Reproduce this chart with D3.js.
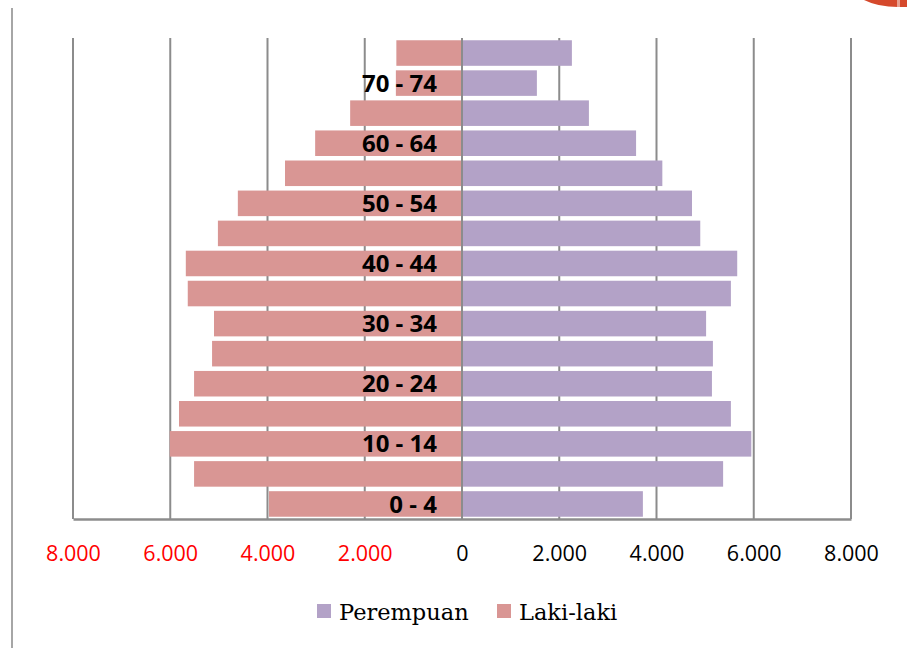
<!DOCTYPE html>
<html><head><meta charset="utf-8">
<script src="https://cdn.jsdelivr.net/npm/d3@7"></script>
<style>body{margin:0;background:#fff}svg{display:block}</style>
</head><body>
<script>
const categories = ["0 - 4","5 - 9","10 - 14","15 - 19","20 - 24","25 - 29","30 - 34","35 - 39","40 - 44","45 - 49","50 - 54","55 - 59","60 - 64","65 - 69","70 - 74","75+"];
const lakiLaki = [3970,5510,6010,5820,5510,5140,5100,5640,5680,5020,4610,3640,3020,2300,1360,1350];
const perempuan = [3720,5370,5950,5530,5140,5160,5020,5530,5660,4900,4730,4120,3580,2610,1540,2260];
const tickValues = [-8000,-6000,-4000,-2000,0,2000,4000,6000,8000];
const labelShown = [true,false,true,false,true,false,true,false,true,false,true,false,true,false,true,false];

const W=907,H=648;
const svg=d3.select("body").append("svg").attr("width",W).attr("height",H);

// decorative page border & corner
svg.append("line").attr("x1",12).attr("x2",12).attr("y1",8).attr("y2",H).attr("stroke","#a6a6a6").attr("stroke-width",2);
svg.append("path").attr("d","M864,0 Q878,7 898,7 L907,7 L907,0 Z").attr("fill","#d5492c");
svg.append("rect").attr("x",897).attr("y",0).attr("width",3).attr("height",7).attr("fill","#e8a090");

const x=d3.scaleLinear().domain([-8000,8000]).range([73,851]);
const y=d3.scaleBand().domain(categories.slice().reverse()).range([38,519]).paddingInner(0.15).paddingOuter(0.075);

// gridlines
svg.append("g").selectAll("line").data(tickValues).join("line")
 .attr("x1",d=>x(d)).attr("x2",d=>x(d)).attr("y1",38).attr("y2",519)
 .attr("stroke","#8c8c8c").attr("stroke-width",2);

// bars
svg.append("g").selectAll("rect").data(categories).join("rect")
 .attr("x",(d,i)=>x(-lakiLaki[i])).attr("width",(d,i)=>x(0)-x(-lakiLaki[i]))
 .attr("y",d=>y(d)).attr("height",y.bandwidth()).attr("fill","#d99694");
svg.append("g").selectAll("rect").data(categories).join("rect")
 .attr("x",x(0)+1).attr("width",(d,i)=>x(perempuan[i])-x(0)-1)
 .attr("y",d=>y(d)).attr("height",y.bandwidth()).attr("fill","#b3a2c7");

// center axis line
svg.append("line").attr("x1",x(0)).attr("x2",x(0)).attr("y1",38).attr("y2",519).attr("stroke","#8c8c8c").attr("stroke-width",2);

// bottom axis
const ax=svg.append("g").attr("transform","translate(0,519)")
 .call(d3.axisBottom(x).tickValues(tickValues).tickSize(0).tickPadding(27)
   .tickFormat(d=>Math.abs(d)===0?"0":d3.format(",")(Math.abs(d)).replace(/,/g,".")));
ax.select(".domain").attr("stroke","#8c8c8c").attr("stroke-width",2.5);
ax.selectAll("text").attr("font-family","'Open Sans',sans-serif").attr("font-size",21.5)
 .attr("fill",d=>d<0?"#ff0000":"#000");

// category labels
svg.append("g").selectAll("text").data(categories.filter((d,i)=>labelShown[i])).join("text")
 .attr("x",437).attr("y",d=>y(d)+y.bandwidth()/2).attr("dy","0.36em")
 .attr("text-anchor","end").attr("font-family","'Open Sans',sans-serif").attr("font-weight","bold")
 .attr("font-size",24).attr("fill","#000").text(d=>d);

// legend
const legend=[{n:"Perempuan",c:"#b3a2c7",x:317},{n:"Laki-laki",c:"#d99694",x:497}];
const lg=svg.append("g").selectAll("g").data(legend).join("g").attr("transform",d=>`translate(${d.x},604)`);
lg.append("rect").attr("width",14).attr("height",14).attr("fill",d=>d.c);
lg.append("text").attr("x",22).attr("y",15.5).attr("font-family","'DejaVu Serif','Liberation Serif',serif")
 .attr("font-size",22.5).attr("fill","#000").text(d=>d.n);
</script>
</body></html>
